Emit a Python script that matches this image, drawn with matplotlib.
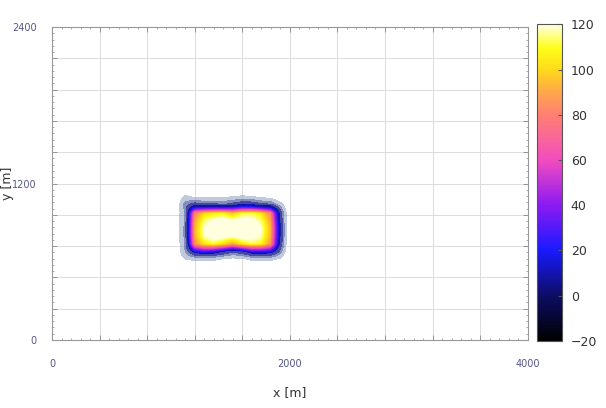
import numpy as np
import matplotlib
matplotlib.use("Agg")
import matplotlib.pyplot as plt
from matplotlib.colors import LinearSegmentedColormap
from matplotlib.ticker import MultipleLocator

# ---- data ----
x_centers = [1040, 1120, 1200, 1280, 1360, 1440, 1520, 1600, 1680, 1760, 1840, 1920, 2000]
y_centers = [560, 620, 680, 740, 800, 860, 920, 980, 1040, 1100, 1160]
# rows follow y_centers (bottom -> top), columns follow x_centers
field = [
    [-70, -70, -70, -70, -70, -70, -70, -70, -70, -70, -70, -75, -80],
    [-70, -50, -46, -44, -46, -52, -58, -54, -46, -44, -46, -54, -80],
    [-70, -30,  15,  25,  20,   5, -10,   0,  20,  22,  18, -20, -80],
    [-70, -26,  85, 104, 110, 102,  90, 104, 112, 108,  86,  -2, -80],
    [-70, -24,  92, 118, 126, 124, 120, 126, 125, 118,  92,   2, -80],
    [-70, -24,  94, 120, 127, 127, 125, 128, 127, 120,  94,   4, -80],
    [-70, -25,  90, 114, 122, 125, 122, 125, 123, 115,  90,   0, -80],
    [-70, -26,  82, 100, 104, 108,  96, 110, 112, 104,  82,  -6, -80],
    [-70, -22,  -6, -12, -10, -16,  -8,   2,   0, -10, -14, -40, -80],
    [-70, -46, -55, -58, -58, -56, -50, -48, -50, -56, -62, -75, -80],
    [-70, -70, -70, -70, -70, -70, -70, -70, -70, -70, -70, -75, -80],
]
cbar_ticks = [-20, 0, 20, 40, 60, 80, 100, 120]
x_ticks = [0, 2000, 4000]
y_ticks = [0, 1200, 2400]

# colormap sampled from the colour bar
cb_vals = [-20, 0, 20, 40, 60, 80, 90, 100, 110, 120]
cb_cols = [(0, 0, 0), (0.05, 0.05, 0.40), (0.1, 0.1, 1.0), (0.55, 0.1, 0.95),
           (0.95, 0.3, 0.75), (1.0, 0.5, 0.45), (1.0, 0.65, 0.3), (1.0, 0.85, 0.1),
           (1.0, 1.0, 0.1), (1.0, 1.0, 0.88)]
cmap = LinearSegmentedColormap.from_list(
    "heat", [((v + 20) / 140, c) for v, c in zip(cb_vals, cb_cols)])

# bilinear refinement of the read grid
xc = np.array(x_centers, float)
yc = np.array(y_centers, float)
F = np.array(field, float)
xf = np.linspace(xc[0], xc[-1], 321)
yf = np.linspace(yc[0], yc[-1], 241)
tmp = np.array([np.interp(xf, xc, row) for row in F])
Ff = np.array([np.interp(yf, yc, col) for col in tmp.T]).T

fig = plt.figure(figsize=(6.06, 4.08), dpi=100)
ax = fig.add_axes([0.0858, 0.1667, 0.785, 0.767])

# halo
cut = 6
ax.contourf(xf, yf, Ff, levels=[-50, cut], colors=["#8595bb"], alpha=0.5, zorder=2)
ax.contourf(xf, yf, Ff, levels=[-30, cut], colors=["#3a4898"], alpha=0.45, zorder=2)
ax.contourf(xf, yf, Ff, levels=[-15, cut], colors=["#1a1a90"], alpha=0.6, zorder=2)
Fm = np.ma.masked_less(Ff, cut)
im = ax.pcolormesh(xf, yf, Fm, cmap=cmap, vmin=-20, vmax=120, shading="gouraud", zorder=3)

ax.set_xlim(0, 4000)
ax.set_ylim(0, 2400)
ax.xaxis.set_minor_locator(MultipleLocator(80))
ax.yaxis.set_minor_locator(MultipleLocator(48))
ax.set_xticks(range(0, 4001, 400))
ax.set_xticklabels([str(v) if v in x_ticks else "" for v in range(0, 4001, 400)])
ax.set_yticks(range(0, 2401, 240))
ax.set_yticklabels([str(v) if v in y_ticks else "" for v in range(0, 2401, 240)])
ax.grid(True, which="major", color="#dcdcdc", linewidth=0.7, zorder=0)
ax.set_axisbelow(True)
ax.tick_params(which="both", direction="in", top=True, right=True, color="#888888")
ax.tick_params(which="major", length=3.5, width=0.6, labelsize=7, labelcolor="#55558a", pad=14)
ax.tick_params(axis="y", which="major", pad=11)
ax.tick_params(which="minor", length=1.5, width=0.5)
for s in ax.spines.values():
    s.set_color("#999999")
    s.set_linewidth(0.8)
ax.set_xlabel("x [m]", fontsize=9, color="#333333", labelpad=12)
ax.set_ylabel("y [m]", fontsize=9, color="#333333")
ax.yaxis.set_label_coords(-0.08, 0.5)

cax = fig.add_axes([0.886, 0.165, 0.042, 0.775])
cb = fig.colorbar(im, cax=cax, ticks=cbar_ticks)
cb.outline.set_edgecolor("#555555")
cb.outline.set_linewidth(0.8)
cax.tick_params(direction="in", length=3, color="#555555", labelsize=9, labelcolor="#333333", pad=6)

fig.savefig("out.png", dpi=100)
